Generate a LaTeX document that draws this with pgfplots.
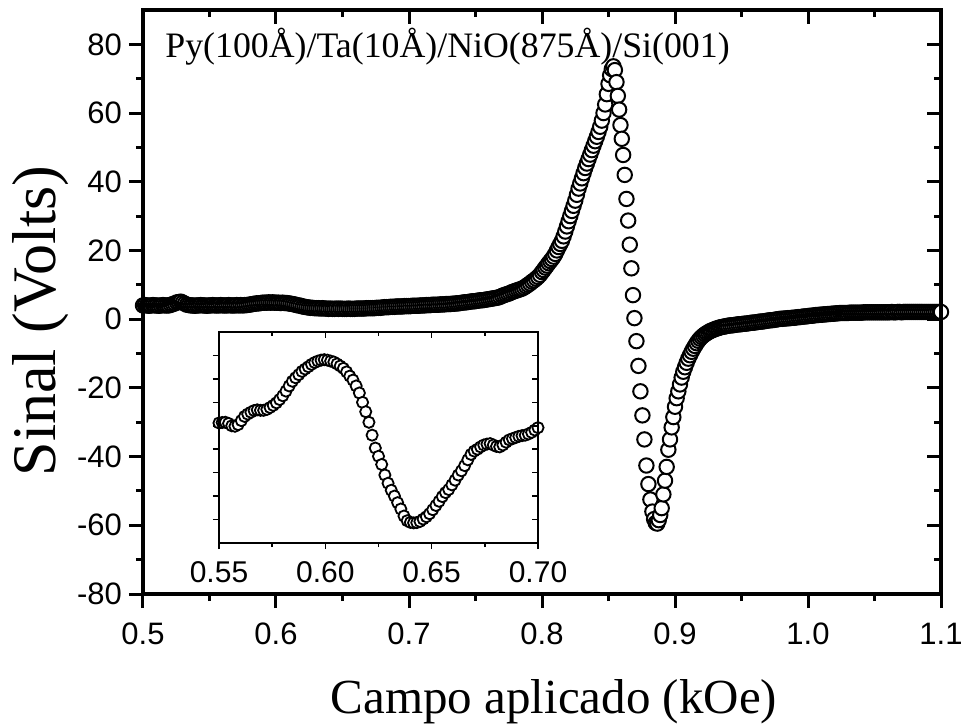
\documentclass[border=0pt]{standalone}
\usepackage{fontspec}
\setmainfont{Liberation Serif}
\setsansfont{Liberation Sans}
\usepackage{pgfplots}
\pgfplotsset{compat=1.18}
\begin{document}
\begin{tikzpicture}
\path[use as bounding box] (-71.5pt,-65.5pt) rectangle (412.5pt,297pt);
\begin{axis}[
  scale only axis, width=399pt, height=292pt,
  at={(0pt,0pt)}, anchor=south west,
  xmin=0.5, xmax=1.1, ymin=-80, ymax=90,
  axis line style={line width=2pt},
  xtick={0.5,0.6,0.7,0.8,0.9,1.0,1.1},
  xticklabels={0.5,0.6,0.7,0.8,0.9,1.0,1.1},
  minor xtick={0.55,0.65,0.75,0.85,0.95,1.05},
  ytick={-80,-60,-40,-20,0,20,40,60,80},
  yticklabels={-80,-60,-40,-20,0,20,40,60,80},
  minor ytick={-70,-50,-30,-10,10,30,50,70},
  xtick pos=left, ytick pos=left, tick align=outside,
  major tick length=7pt, minor tick length=3.5pt,
  tick style={line width=1.5pt, black},
  tick label style={font=\sffamily\fontsize{15.5}{18}\selectfont},
  xticklabel style={yshift=-4pt},
  xlabel={Campo aplicado (kOe)}, ylabel={Sinal (Volts)},
  label style={font=\fontsize{24.5}{28}\selectfont},
  xlabel style={at={(axis description cs:0.515,-0.204)}, anchor=base},
  ylabel style={at={(axis description cs:-0.110,0.4675)}, anchor=base, font=\fontsize{31}{34}\selectfont},
  clip=false,
]
\addplot[only marks, mark=*, mark size=3.6pt, mark options={fill=white, draw=black, line width=1pt}] coordinates {
(0.5000,4.0)(0.5015,4.1)(0.5030,4.0)(0.5045,3.9)(0.5060,4.0)(0.5075,4.1)(0.5090,4.0)(0.5105,4.0)(0.5120,3.9)(0.5135,4.0)
(0.5150,4.1)(0.5165,4.0)(0.5180,4.0)(0.5195,4.0)(0.5210,4.2)(0.5225,4.4)(0.5240,4.6)(0.5255,4.9)(0.5270,5.0)(0.5285,5.1)
(0.5300,4.8)(0.5315,4.5)(0.5330,4.2)(0.5345,4.1)(0.5360,4.0)(0.5375,4.0)(0.5390,3.9)(0.5405,4.0)(0.5420,4.0)(0.5435,4.1)
(0.5450,4.0)(0.5465,4.0)(0.5480,3.9)(0.5495,4.0)(0.5510,4.0)(0.5525,4.1)(0.5540,4.0)(0.5555,4.0)(0.5570,4.0)(0.5585,4.1)
(0.5600,4.0)(0.5615,4.0)(0.5630,4.0)(0.5645,4.1)(0.5660,4.0)(0.5675,4.0)(0.5690,4.0)(0.5705,4.1)(0.5720,4.0)(0.5735,4.1)
(0.5750,4.0)(0.5765,4.1)(0.5780,4.1)(0.5795,4.2)(0.5810,4.3)(0.5825,4.4)(0.5840,4.5)(0.5855,4.6)(0.5870,4.6)(0.5885,4.7)
(0.5900,4.8)(0.5915,4.8)(0.5930,4.8)(0.5945,4.9)(0.5960,4.8)(0.5975,4.9)(0.5990,4.8)(0.6005,4.8)(0.6020,4.8)(0.6035,4.7)
(0.6050,4.8)(0.6065,4.7)(0.6080,4.7)(0.6095,4.6)(0.6110,4.5)(0.6125,4.4)(0.6140,4.3)(0.6155,4.1)(0.6170,4.0)(0.6185,3.9)
(0.6200,3.7)(0.6215,3.6)(0.6230,3.5)(0.6245,3.4)(0.6260,3.3)(0.6275,3.3)(0.6290,3.2)(0.6305,3.2)(0.6320,3.2)(0.6335,3.1)
(0.6350,3.2)(0.6365,3.1)(0.6380,3.1)(0.6395,3.0)(0.6410,3.1)(0.6425,3.0)(0.6440,3.0)(0.6455,3.1)(0.6470,3.0)(0.6485,3.1)
(0.6500,3.0)(0.6515,3.0)(0.6530,3.0)(0.6545,3.1)(0.6560,3.0)(0.6575,3.0)(0.6590,3.0)(0.6605,3.1)(0.6620,3.1)(0.6635,3.1)
(0.6650,3.1)(0.6665,3.1)(0.6680,3.2)(0.6695,3.2)(0.6710,3.2)(0.6725,3.2)(0.6740,3.2)(0.6755,3.3)(0.6770,3.3)(0.6785,3.3)
(0.6800,3.4)(0.6815,3.5)(0.6830,3.5)(0.6845,3.5)(0.6860,3.6)(0.6875,3.6)(0.6890,3.6)(0.6905,3.7)(0.6920,3.7)(0.6935,3.7)
(0.6950,3.7)(0.6965,3.8)(0.6980,3.8)(0.6995,3.8)(0.7010,3.8)(0.7025,3.9)(0.7040,3.9)(0.7055,3.9)(0.7070,3.9)(0.7085,4.0)
(0.7100,4.0)(0.7115,4.0)(0.7130,4.1)(0.7145,4.1)(0.7160,4.1)(0.7175,4.2)(0.7190,4.2)(0.7205,4.2)(0.7220,4.2)(0.7235,4.3)
(0.7250,4.3)(0.7265,4.3)(0.7280,4.4)(0.7295,4.4)(0.7310,4.4)(0.7325,4.5)(0.7340,4.5)(0.7355,4.6)(0.7370,4.6)(0.7385,4.7)
(0.7400,4.8)(0.7415,4.9)(0.7430,4.9)(0.7445,5.0)(0.7460,5.1)(0.7475,5.2)(0.7490,5.2)(0.7505,5.3)(0.7520,5.4)(0.7535,5.5)
(0.7550,5.5)(0.7565,5.6)(0.7580,5.7)(0.7595,5.8)(0.7610,5.9)(0.7625,6.0)(0.7640,6.1)(0.7655,6.2)(0.7670,6.3)(0.7685,6.5)
(0.7700,6.8)(0.7715,7.0)(0.7730,7.2)(0.7745,7.4)(0.7760,7.6)(0.7775,7.9)(0.7790,8.1)(0.7805,8.3)(0.7820,8.5)(0.7835,8.7)
(0.7850,8.9)(0.7865,9.2)(0.7880,9.6)(0.7895,10.0)(0.7910,10.4)(0.7925,10.9)(0.7940,11.3)(0.7955,11.8)(0.7970,12.3)(0.7985,12.9)
(0.80000,13.7)(0.80125,14.3)(0.80250,15.0)(0.80375,15.6)(0.80500,16.3)(0.80625,16.9)(0.80750,17.5)(0.80875,18.2)
(0.81000,19.0)(0.81125,20.0)(0.81250,21.0)(0.81375,21.9)(0.81500,22.8)(0.81625,24.1)(0.81750,25.5)(0.81875,27.0)
(0.82000,28.5)(0.82125,30.0)(0.82250,31.5)(0.82375,33.0)(0.82500,34.5)(0.82625,36.2)(0.82750,38.0)(0.82875,39.5)
(0.83000,41.0)(0.83125,42.5)(0.83250,44.0)(0.83375,45.3)(0.83500,46.6)(0.83625,47.9)(0.83750,49.2)(0.83875,50.5)
(0.84000,51.8)(0.84125,53.1)(0.84250,54.5)(0.84375,56.0)(0.84500,57.8)(0.84625,60.0)(0.84750,62.5)(0.84875,65.5)
(0.85000,68.5)(0.85125,71.0)(0.85250,72.8)(0.85370,73.6)
(0.8548,72.5)(0.8560,69.0)(0.8570,65.0)(0.8580,61.0)(0.8590,56.5)(0.8600,52.5)(0.8610,47.8)(0.8622,42.0)
(0.8635,35.0)(0.8648,28.7)(0.8660,21.7)(0.8672,14.8)(0.8684,7.0)(0.8695,0.3)(0.8710,-6.4)(0.8725,-13.6)
(0.8740,-21.0)(0.8755,-28.0)(0.8770,-35.0)(0.8785,-42.6)(0.8800,-48.0)(0.8815,-52.5)(0.8830,-56.0)(0.8843,-58.2)
(0.8855,-59.3)(0.8867,-59.5)(0.8878,-58.5)(0.8889,-57.0)(0.8900,-55.0)
(0.89125,-51.0)(0.8925,-47.0)(0.89375,-43.0)(0.8950,-38.0)(0.89625,-35.0)(0.8975,-31.5)(0.89875,-28.5)(0.9000,-25.5)
(0.90125,-23.0)(0.9025,-21.0)(0.90375,-19.0)(0.9050,-17.0)(0.90625,-15.3)(0.9075,-14.0)(0.90875,-12.7)
(0.91000,-11.5)(0.91125,-10.5)(0.91250,-9.5)(0.91375,-8.6)(0.91500,-7.8)(0.91625,-7.0)(0.91750,-6.3)(0.91875,-5.7)
(0.92000,-5.2)(0.92125,-4.8)(0.92250,-4.4)(0.92375,-4.1)(0.92500,-3.8)(0.92625,-3.5)(0.92750,-3.3)(0.92875,-3.1)
(0.93000,-2.9)(0.93125,-2.7)(0.93250,-2.6)(0.93375,-2.4)(0.93500,-2.3)(0.93625,-2.2)(0.93750,-2.1)(0.93875,-2.0)(0.94000,-1.9)
(0.9415,-1.8)(0.9430,-1.8)(0.9445,-1.7)(0.9460,-1.6)(0.9475,-1.5)(0.9490,-1.5)(0.9505,-1.4)(0.9520,-1.3)(0.9535,-1.3)(0.9550,-1.2)
(0.9565,-1.1)(0.9580,-1.0)(0.9595,-1.0)(0.9610,-0.9)(0.9625,-0.8)(0.9640,-0.7)(0.9655,-0.7)(0.9670,-0.6)(0.9685,-0.5)(0.9700,-0.4)
(0.9715,-0.3)(0.9730,-0.3)(0.9745,-0.2)(0.9760,-0.1)(0.9775,0.0)(0.9790,0.1)(0.9805,0.1)(0.9820,0.2)(0.9835,0.2)(0.9850,0.3)
(0.9865,0.3)(0.9880,0.4)(0.9895,0.4)(0.9910,0.5)(0.9925,0.6)(0.9940,0.6)(0.9955,0.7)(0.9970,0.8)(0.9985,0.8)(1.0000,0.9)
(1.0015,1.0)(1.0030,1.0)(1.0045,1.1)(1.0060,1.2)(1.0075,1.2)(1.0090,1.3)(1.0105,1.3)(1.0120,1.4)(1.0135,1.4)(1.0150,1.5)
(1.0165,1.5)(1.0180,1.6)(1.0195,1.6)(1.0210,1.7)(1.0225,1.7)(1.0240,1.8)(1.0255,1.8)(1.0270,1.8)(1.0285,1.8)(1.0300,1.8)
(1.0315,1.9)(1.0330,1.9)(1.0345,1.9)(1.0360,1.9)(1.0375,1.9)(1.0390,1.9)(1.0405,1.9)(1.0420,2.0)(1.0435,2.0)(1.0450,2.0)
(1.0465,2.0)(1.0480,2.0)(1.0495,2.0)(1.0510,2.0)(1.0525,2.0)(1.0540,2.0)(1.0555,2.0)(1.0570,2.0)(1.0585,2.0)(1.0600,2.0)
(1.0615,2.0)(1.0630,2.1)(1.0645,2.0)(1.0660,2.0)(1.0675,2.1)(1.0690,2.1)(1.0705,2.0)(1.0720,2.1)(1.0735,2.1)(1.0750,2.1)
(1.0765,2.1)(1.0780,2.1)(1.0795,2.1)(1.0810,2.1)(1.0825,2.1)(1.0840,2.1)(1.0855,2.1)(1.0870,2.1)(1.0885,2.1)(1.0900,2.1)
(1.0915,2.1)(1.0930,2.1)(1.0945,2.1)(1.0960,2.1)(1.0975,2.1)(1.0990,2.1)(1.1000,2.1)
};
\end{axis}
\begin{axis}[
  scale only axis, width=399pt, height=292pt,
  at={(0pt,0pt)}, anchor=south west,
  xmin=0.5, xmax=1.1, ymin=-80, ymax=90,
  axis line style={line width=2pt},
  xtick={0.5,0.6,0.7,0.8,0.9,1.0,1.1}, xticklabels={},
  minor xtick={0.55,0.65,0.75,0.85,0.95,1.05},
  ytick={-80,-60,-40,-20,0,20,40,60,80}, yticklabels={},
  minor ytick={-70,-50,-30,-10,10,30,50,70},
  xtick pos=right, ytick pos=right, tick align=inside,
  major tick length=7pt, minor tick length=3.5pt,
  tick style={line width=1.5pt, black},
  clip=false,
]
\node[anchor=base west, font=\fontsize{17.9}{20}\selectfont, inner sep=0pt] at (axis description cs:0.0276,0.9195) {Py(100Å)/Ta(10Å)/NiO(875Å)/Si(001)};
\end{axis}
\begin{axis}[
  scale only axis, width=159.5pt, height=105.5pt,
  at={(38pt,25.5pt)}, anchor=south west,
  xmin=0.55, xmax=0.70, ymin=0, ymax=9,
  axis background/.style={fill=white},
  axis line style={line width=1pt},
  xtick={0.55,0.60,0.65,0.70}, xticklabels={0.55,0.60,0.65,0.70},
  minor xtick={0.575,0.625,0.675},
  ytick={1,2,3,4,5,6,7,8}, yticklabels={},
  xtick pos=left, ytick pos=left, tick align=outside,
  major tick length=3pt, minor tick length=2pt,
  tick style={line width=0.8pt, black},
  tick label style={font=\sffamily\fontsize{15}{18}\selectfont},
  xticklabel style={yshift=-2.5pt},
  clip=false,
]
\addplot[only marks, mark=*, mark size=2.8pt, mark options={fill=white, draw=black, line width=0.9pt}] coordinates {
(0.5500,5.12)(0.5515,5.14)(0.5530,5.15)(0.5545,5.10)(0.5560,5.00)(0.5575,4.98)(0.5590,5.05)(0.5605,5.22)(0.5620,5.40)(0.5635,5.50)
(0.5650,5.58)(0.5665,5.65)(0.5680,5.68)(0.5695,5.66)(0.5710,5.66)(0.5725,5.70)(0.5740,5.78)(0.5755,5.87)(0.5770,5.98)(0.5785,6.12)
(0.5800,6.28)(0.5815,6.48)(0.5830,6.70)(0.5845,6.90)(0.5860,7.05)(0.5875,7.18)(0.5890,7.32)(0.5905,7.42)(0.5920,7.52)(0.5935,7.62)
(0.5950,7.70)(0.5965,7.76)(0.5980,7.80)(0.5995,7.82)(0.6010,7.80)(0.6025,7.76)(0.6040,7.72)(0.6055,7.64)(0.6070,7.55)(0.6085,7.45)
(0.6100,7.30)(0.6115,7.12)(0.6130,6.95)(0.6145,6.70)(0.6160,6.40)(0.6175,6.00)(0.6190,5.60)(0.6205,5.15)(0.6220,4.60)(0.6235,4.05)
(0.6250,3.70)(0.6265,3.35)(0.6280,2.90)(0.6295,2.55)(0.6310,2.25)(0.6325,2.00)(0.6340,1.72)(0.6355,1.45)(0.6370,1.15)(0.6385,0.95)
(0.6400,0.88)(0.6415,0.86)(0.6430,0.87)(0.6445,0.92)(0.6460,1.02)(0.6475,1.12)(0.6490,1.25)(0.6505,1.42)(0.6520,1.60)(0.6535,1.78)
(0.6550,1.98)(0.6565,2.15)(0.6580,2.28)(0.6595,2.48)(0.6610,2.68)(0.6625,2.90)(0.6640,3.08)(0.6655,3.30)(0.6670,3.55)(0.6685,3.78)
(0.6700,3.92)(0.6715,4.00)(0.6730,4.10)(0.6745,4.18)(0.6760,4.22)(0.6775,4.24)(0.6790,4.18)(0.6805,4.12)(0.6820,4.10)(0.6835,4.18)
(0.6850,4.30)(0.6865,4.40)(0.6880,4.45)(0.6895,4.50)(0.6910,4.55)(0.6925,4.58)(0.6940,4.60)(0.6955,4.65)(0.6970,4.72)(0.6985,4.82)
(0.7000,4.92)
};
\end{axis}
\begin{axis}[
  scale only axis, width=159.5pt, height=105.5pt,
  at={(38pt,25.5pt)}, anchor=south west,
  xmin=0.55, xmax=0.70, ymin=0, ymax=9,
  axis line style={line width=1pt},
  xtick={0.55,0.60,0.65,0.70}, xticklabels={},
  minor xtick={0.575,0.625,0.675},
  ytick={1,2,3,4,5,6,7,8}, yticklabels={},
  xtick pos=right, ytick pos=right, tick align=inside,
  major tick length=3pt, minor tick length=2pt,
  tick style={line width=0.8pt, black},
]
\end{axis}
\end{tikzpicture}
\end{document}
